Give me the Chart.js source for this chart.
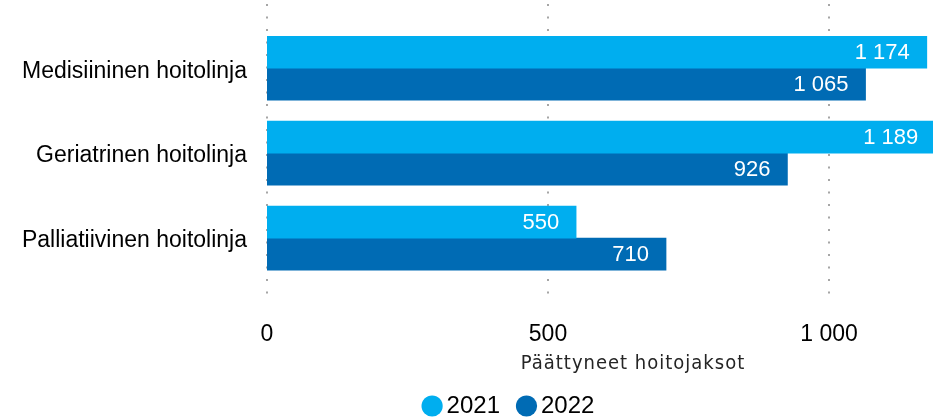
<!DOCTYPE html>
<html>
<head>
<meta charset="utf-8">
<script src="https://cdn.jsdelivr.net/npm/chart.js@4.4.1/dist/chart.umd.min.js"></script>
<style>
  html, body { margin: 0; padding: 0; background: #fff; }
  #wrap { width: 933px; height: 418px; }
</style>
</head>
<body>
<div id="wrap"><canvas id="c" width="933" height="418"></canvas></div>
<script>
const categories = ['Medisiininen hoitolinja', 'Geriatrinen hoitolinja', 'Palliatiivinen hoitolinja'];
const values2021 = [1174, 1189, 550];
const values2022 = [1065, 926, 710];
const seriesNames = ['2021', '2022'];
const xTicks = [0, 500, 1000];
const axisTitle = 'Päättyneet hoitojaksot';

const FONT = '"Liberation Sans", Arial, sans-serif';

// 1174 -> "1 174"
function fmt(v) {
  return String(v).replace(/\B(?=(\d{3})+(?!\d))/g, ' ');
}

// dotted vertical grid, a bit taller than the bar area like the original
const dotGrid = {
  id: 'dotGrid',
  beforeDatasetsDraw(chart) {
    const x = chart.scales.x;
    const ctx = chart.ctx;
    ctx.save();
    ctx.strokeStyle = '#a6a6a6';
    ctx.lineWidth = 2;
    ctx.setLineDash([2, 10.5]);
    xTicks.forEach(t => {
      const px = Math.round(x.getPixelForValue(t));
      ctx.beginPath();
      ctx.moveTo(px, 4);
      ctx.lineTo(px, 300);
      ctx.stroke();
    });
    ctx.restore();
  }
};

// value labels inside bar ends + axis title
const barLabels = {
  id: 'barLabels',
  afterDatasetsDraw(chart) {
    const ctx = chart.ctx;
    ctx.save();
    ctx.font = '22px ' + FONT;
    ctx.fillStyle = '#ffffff';
    ctx.textAlign = 'right';
    ctx.textBaseline = 'middle';
    chart.data.datasets.forEach((ds, di) => {
      chart.getDatasetMeta(di).data.forEach((bar, i) => {
        ctx.fillText(fmt(ds.data[i]), bar.x - 17, bar.y + 1);
      });
    });
    ctx.font = '20px "DejaVu Sans Condensed", "DejaVu Sans", sans-serif';
    ctx.fillStyle = '#252525';
    ctx.textAlign = 'center';
    ctx.textBaseline = 'alphabetic';
    ctx.letterSpacing = '1px';
    ctx.fillText(axisTitle, 633, 369);
    ctx.restore();
  }
};

// legend sits off-centre in the original
const legendShift = {
  id: 'legendShift',
  afterLayout(chart) {
    const lg = chart.legend;
    lg.left += 45.5; lg.right += 45.5;
    lg.top += 10; lg.bottom += 10;
  }
};

new Chart(document.getElementById('c'), {
  type: 'bar',
  data: {
    labels: categories,
    datasets: [
      { label: seriesNames[0], data: values2021, backgroundColor: '#00aeef' },
      { label: seriesNames[1], data: values2022, backgroundColor: '#006bb4' }
    ]
  },
  options: {
    indexAxis: 'y',
    responsive: false,
    animation: false,
    layout: { padding: { left: 0, top: 17, right: 0, bottom: 0 } },
    datasets: { bar: { barThickness: 32 } },
    scales: {
      x: {
        min: 0,
        max: 1185,
        grid: { display: false },
        border: { display: false },
        afterBuildTicks: s => { s.ticks = xTicks.map(v => ({ value: v })); },
        afterFit: s => { s.height = 79.5; },
        ticks: {
          padding: 32,
          color: '#000',
          font: { size: 23, family: FONT },
          callback: v => fmt(v)
        }
      },
      y: {
        grid: { display: false },
        border: { display: false },
        afterFit: s => { s.width = 267; },
        ticks: {
          padding: 12,
          labelOffset: 3,
          color: '#000',
          font: { size: 23, family: FONT }
        }
      }
    },
    plugins: {
      legend: {
        position: 'bottom',
        labels: {
          usePointStyle: true,
          pointStyle: 'circle',
          boxWidth: 5,
          boxHeight: 15,
          padding: 24,
          color: '#000',
          font: { size: 24, family: FONT }
        }
      },
      tooltip: { enabled: false }
    }
  },
  plugins: [dotGrid, barLabels, legendShift]
});
</script>
</body>
</html>
